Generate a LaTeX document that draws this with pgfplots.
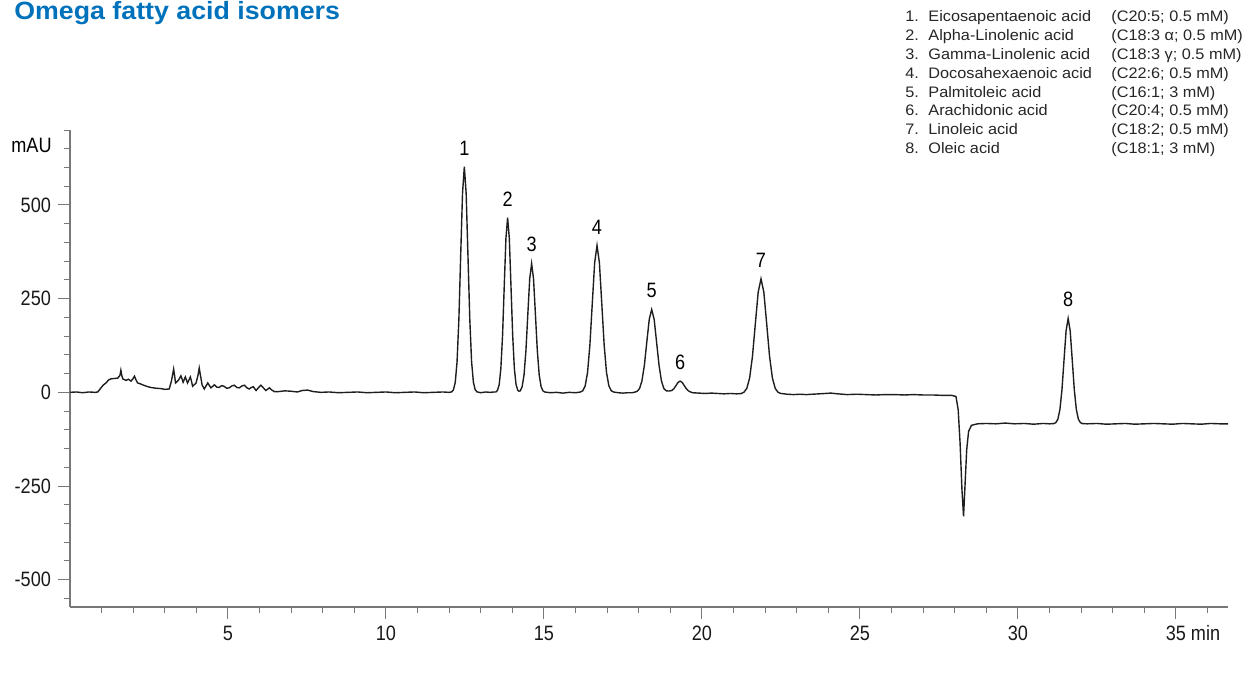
\documentclass[border=0pt]{standalone}
\usepackage{pgfplots}
\pgfplotsset{compat=1.18}
\usepackage{fontspec}
\setmainfont{Liberation Sans}
\newfontfamily\tickfamily[FakeStretch=0.87]{Liberation Sans}
\newfontfamily\legfamily[FakeStretch=1.07]{Liberation Sans}
\newfontfamily\titlefamily[FakeStretch=1.07]{Liberation Sans}
\newcommand\tickfont{\tickfamily\fontsize{10.4}{12}\selectfont}
\newcommand\legfont{\legfamily\fontsize{7.6}{9.45}\selectfont}
\definecolor{titleblue}{RGB}{0,114,188}
\definecolor{axgray}{RGB}{120,120,120}
\definecolor{trace}{RGB}{30,30,30}
\begin{document}
\begin{tikzpicture}
\useasboundingbox (-35pt,-35.15pt) rectangle (588pt,303.35pt);
\begin{axis}[
  scale only axis, width=579pt, height=238.35pt,
  xmin=0, xmax=36.65, ymin=-572, ymax=700,
  axis lines=left,
  axis line style={-, draw=axgray, line width=0.8pt},
  tick style={draw=axgray, line width=0.5pt},
  tick align=outside,
  major tick length=6pt, minor tick length=3pt,
  xtick={5,10,15,20,25,30,35},
  xticklabels={5,10,15,20,25,30,{35\rlap{ min}}},
  minor xtick={1,2,...,36},
  ytick={-500,-250,0,250,500},
  yticklabels={-500,-250,0,250,500},
  minor ytick={-550,-500,...,700},
  ticklabel style={font=\tickfont, text=black!90},
]
\addplot[trace, line width=0.7pt] coordinates {
(0.00,0) (0.2,1) (0.4,-1) (0.6,1) (0.8,0) (0.88,1) (0.98,12) (1.06,20) (1.14,25) (1.22,33) (1.30,36) (1.40,37) (1.51,38) (1.58,45) (1.61,59) (1.64,45) (1.67,36) (1.77,32) (1.85,35) (1.93,30) (1.99,36) (2.04,43) (2.09,33) (2.14,25) (2.22,23) (2.30,20) (2.43,16) (2.56,13) (2.72,11) (2.88,10) (3.00,8) (3.14,9) (3.21,30) (3.28,62) (3.31,45) (3.34,25) (3.43,32) (3.51,44) (3.55,35) (3.58,27) (3.65,41) (3.72,25) (3.81,41) (3.85,28) (3.88,16) (3.99,25) (4.05,45) (4.09,65) (4.13,45) (4.18,20) (4.25,9) (4.36,25) (4.46,12) (4.57,20) (4.64,14) (4.72,13) (4.80,18) (4.88,16) (4.96,11) (5.04,12) (5.12,17) (5.20,19) (5.28,13) (5.36,12) (5.44,17) (5.52,19) (5.60,12) (5.67,9) (5.74,13) (5.80,15) (5.89,5) (5.96,12) (6.04,19) (6.12,12) (6.20,5) (6.25,8) (6.31,12) (6.39,6) (6.47,2) (6.6,2) (6.8,4) (6.99,3) (7.2,1) (7.35,5) (7.52,6) (7.7,2) (7.94,0) (8.2,1) (8.5,-1) (8.8,0) (9.1,1) (9.4,-1) (9.7,0) (10.0,1) (10.3,-1) (10.6,0) (10.9,1) (11.2,-1) (11.5,0) (11.8,1) (12.0,0)
(12.08,1.3) (12.135,6.7) (12.193,26.4) (12.25,81.5) (12.308,195.5) (12.365,365.1) (12.423,531.3) (12.48,602) (12.538,531.3) (12.595,365.1) (12.653,195.5) (12.71,81.5) (12.768,26.4) (12.825,6.7) (12.883,1.3) (13.0,-1) (13.15,1) (13.3,0) (13.42,1)
(13.476,1.0) (13.529,5.2) (13.583,20.5) (13.636,63.1) (13.69,151.3) (13.743,282.6) (13.797,411.2) (13.85,466) (13.904,411.2) (13.957,282.6) (14.011,151.3) (14.064,63.1) (14.118,20.5) (14.171,5.7) (14.21,3) (14.25,4)
(14.31,15.1) (14.37,46.5) (14.43,111.7) (14.49,208.6) (14.55,303.6) (14.61,344) (14.67,303.6) (14.73,208.6) (14.79,111.7) (14.85,46.5) (14.91,15.1) (14.97,3.8) (15.03,0.8) (15.2,-1) (15.4,0) (15.6,-2) (15.8,0) (16.0,-1)
(16.155,0.9) (16.23,4.4) (16.305,17.2) (16.38,53.0) (16.455,127.3) (16.53,237.7) (16.605,345.9) (16.68,392) (16.755,345.9) (16.83,237.7) (16.905,127.3) (16.98,53.0) (17.055,17.2) (17.13,4.4) (17.205,0.9) (17.35,-1) (17.5,-2) (17.65,-1) (17.8,-1)
(17.868,0.5) (17.945,2.5) (18.023,9.7) (18.1,29.9) (18.178,71.8) (18.255,134.0) (18.333,195.0) (18.41,221) (18.488,195.0) (18.565,134.0) (18.643,71.8) (18.72,29.9) (18.798,9.7) (18.875,4) (18.96,3.5)
(19.05,5) (19.115,10) (19.18,18.2) (19.245,26.5) (19.31,30) (19.375,26.5) (19.44,18.2) (19.505,9.7) (19.57,4) (19.635,1.3) (19.7,-1) (19.9,-2) (20.1,-3) (20.3,-2) (20.5,-3) (20.7,-4) (20.9,-3) (21.1,-4)
(21.24,-3.3) (21.33,0.4) (21.42,10.4) (21.51,38.4) (21.6,96.4) (21.69,182.6) (21.78,267) (21.87,303) (21.96,267) (22.05,182.6) (22.14,96.4) (22.23,38.4) (22.32,10.4) (22.41,0) (22.5,-3)
(22.7,-5) (22.9,-6) (23.1,-5) (23.3,-6) (23.5,-5) (23.7,-4) (23.9,-3) (24.08,-2) (24.3,-4) (24.6,-6) (24.9,-5) (25.2,-6) (25.5,-7) (25.8,-6) (26.1,-6) (26.4,-7) (26.7,-6) (27.0,-7) (27.3,-7) (27.6,-8) (27.9,-8)
(28.04,-11) (28.11,-46) (28.17,-135) (28.23,-260) (28.28,-331) (28.33,-242) (28.38,-153) (28.44,-104) (28.53,-88) (28.72,-84) (29.0,-83) (29.3,-84) (29.6,-82) (29.9,-84) (30.2,-83) (30.5,-85) (30.8,-83) (31.0,-84)
(31.135,-83.4) (31.2,-80.9) (31.265,-71.7) (31.33,-46) (31.395,7.2) (31.46,86.4) (31.525,164) (31.59,197) (31.655,164) (31.72,86.4) (31.785,7.2) (31.85,-46) (31.915,-71.7) (31.98,-80.9) (32.045,-83.4)
(32.2,-84) (32.5,-83) (32.8,-85) (33.1,-84) (33.4,-83) (33.7,-85) (34.0,-84) (34.3,-83) (34.6,-84) (34.9,-85) (35.2,-83) (35.5,-84) (35.8,-85) (36.1,-83) (36.4,-84) (36.65,-84)
};
\begin{scope}[every node/.style={font=\tickfont, inner sep=0pt, anchor=south, yshift=5.5pt}]
\node at (axis cs:12.48,602) {1};
\node at (axis cs:13.85,466) {2};
\node at (axis cs:14.61,344) {3};
\node at (axis cs:16.68,392) {4};
\node at (axis cs:18.41,221) {5};
\node at (axis cs:19.31,30) {6};
\node at (axis cs:21.87,303) {7};
\node at (axis cs:31.59,197) {8};
\end{scope}
\end{axis}
\node[anchor=east, font=\tickfont, inner sep=0pt] at (-9pt,230.85pt) {mAU};
\node[anchor=base west, inner sep=0pt, font=\titlefamily\fontsize{12.5}{14}\selectfont\bfseries, text=titleblue] at (-28pt,293.85pt) {Omega fatty acid isomers};
\begin{scope}[every node/.style={anchor=base west, inner sep=0pt, font=\legfont, text=black!85}]
\node at (417.5pt,292.65pt) {1.}; \node at (429pt,292.65pt) {Eicosapentaenoic acid}; \node at (520.5pt,292.65pt) {(C20:5; 0.5 mM)};
\node at (417.5pt,283.2pt) {2.}; \node at (429pt,283.2pt) {Alpha-Linolenic acid}; \node at (520.5pt,283.2pt) {(C18:3 α; 0.5 mM)};
\node at (417.5pt,273.75pt) {3.}; \node at (429pt,273.75pt) {Gamma-Linolenic acid}; \node at (520.5pt,273.75pt) {(C18:3 γ; 0.5 mM)};
\node at (417.5pt,264.3pt) {4.}; \node at (429pt,264.3pt) {Docosahexaenoic acid}; \node at (520.5pt,264.3pt) {(C22:6; 0.5 mM)};
\node at (417.5pt,254.85pt) {5.}; \node at (429pt,254.85pt) {Palmitoleic acid}; \node at (520.5pt,254.85pt) {(C16:1; 3 mM)};
\node at (417.5pt,245.4pt) {6.}; \node at (429pt,245.4pt) {Arachidonic acid}; \node at (520.5pt,245.4pt) {(C20:4; 0.5 mM)};
\node at (417.5pt,235.95pt) {7.}; \node at (429pt,235.95pt) {Linoleic acid}; \node at (520.5pt,235.95pt) {(C18:2; 0.5 mM)};
\node at (417.5pt,226.5pt) {8.}; \node at (429pt,226.5pt) {Oleic acid}; \node at (520.5pt,226.5pt) {(C18:1; 3 mM)};
\end{scope}
\end{tikzpicture}
\end{document}
